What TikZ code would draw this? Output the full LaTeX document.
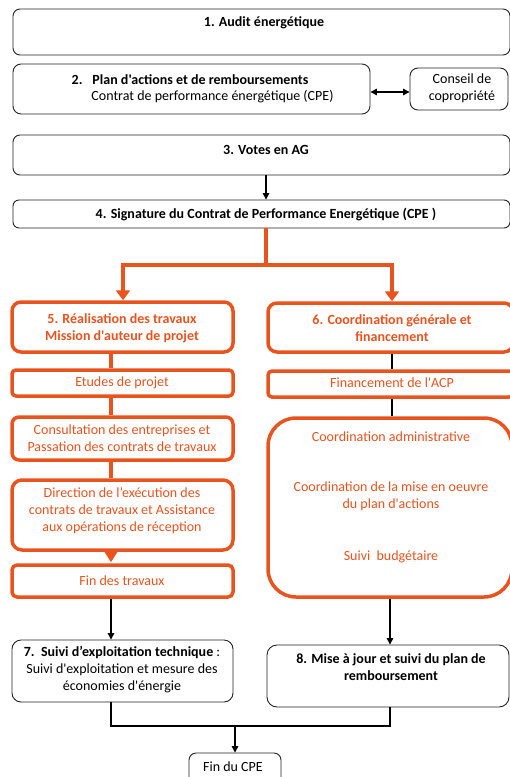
\documentclass[tikz,border=0pt]{standalone}
\usepackage{fontspec}
\setmainfont{Carlito}
\newfontfamily\carl{Carlito}
\usetikzlibrary{arrows.meta}
\definecolor{orng}{RGB}{233,83,30}
\definecolor{bord}{RGB}{35,35,35}
\tikzset{
  bbox/.style={draw=bord, line width=0.9pt, rounded corners=#1, inner sep=0pt},
  bbox/.default=8pt,
  obox/.style={draw=orng, line width=3.5pt, rounded corners=#1, inner sep=0pt},
  obox/.default=8pt,
  txt/.style={font=\carl\fontsize{14}{17}\selectfont, align=center, inner sep=0pt, text=black},
  btxt/.style={font=\carl\bfseries\fontsize{14}{17}\selectfont, align=center, inner sep=0pt, text=black},
  otxt/.style={font=\carl\fontsize{14}{17}\selectfont, align=center, inner sep=0pt, text=orng},
  obtxt/.style={font=\carl\bfseries\fontsize{14}{17}\selectfont, align=center, inner sep=0pt, text=orng},
  bline/.style={draw=black, line width=1.3pt},
  barrow/.style={bline, -{Triangle[width=6.5pt,length=6.5pt]}},
  oline/.style={draw=orng, line width=4pt},
  oarrow/.style={oline, -{Triangle[width=14pt,length=10pt]}},
}
\begin{document}
\begin{tikzpicture}[x=1pt,y=-1pt]
\useasboundingbox (0,0) rectangle (510,777);
\clip (0,0) rectangle (510,777);

% black boxes top
\node[bbox=7pt, minimum width=497pt, minimum height=46pt] (n1) at (261.5,32) {};
\node[bbox=8pt, minimum width=357pt, minimum height=50pt] (n2) at (191.5,89) {};
\node[bbox=8pt, minimum width=98pt, minimum height=42pt] (nc) at (459,89) {};
\node[bbox=7pt, minimum width=497pt, minimum height=40pt] (n3) at (261.5,155) {};
\node[bbox=6pt, minimum width=497pt, minimum height=28pt] (n4) at (261.5,214) {};

% orange boxes
\node[obox=9pt, minimum width=221pt, minimum height=50pt] (n5) at (122.5,327) {};
\node[obox=9pt, minimum width=245pt, minimum height=49pt] (n6) at (390.5,327.5) {};
\node[obox=4pt, minimum width=221pt, minimum height=26pt] (n5a) at (122.5,383) {};
\node[obox=7pt, minimum width=221pt, minimum height=43pt] (n5b) at (122.5,438.5) {};
\node[obox=10pt, minimum width=221pt, minimum height=70pt] (n5c) at (122.5,515) {};
\node[obox=5pt, minimum width=221pt, minimum height=32pt] (n5d) at (122.5,581) {};
\node[obox=4pt, minimum width=245pt, minimum height=26pt] (n6a) at (390.5,384) {};
\node[obox=28pt, minimum width=244pt, minimum height=179pt] (n6b) at (390,507.5) {};

% black boxes bottom
\node[bbox=9pt, minimum width=221pt, minimum height=62pt] (n7) at (122.5,671) {};
\node[bbox=10pt, minimum width=242pt, minimum height=62pt] (n8) at (388,676) {};
\node[bbox=7pt, minimum width=92pt, minimum height=38pt] (nf) at (235,772) {};

% texts
\node[btxt] (t1) at (264,23) {1. Audit énergétique};
\node[btxt] (t2a) at (190,80) {2.\hspace{10pt}Plan d'actions et de remboursements};
\node[txt] (t2b) at (212.5,97) {Contrat de performance énergétique (CPE)};
\node[txt] (tc) at (462,88.5) {Conseil de\\copropriété};
\node[btxt] (t3) at (266,150) {3. Votes en AG};
\node[btxt] (t4) at (266,214.5) {4. Signature du Contrat de Performance Energétique (CPE )};
\node[obtxt] (t5) at (122,328) {5. Réalisation des travaux\\Mission d'auteur de projet};
\node[obtxt] (t6) at (392,328.5) {6. Coordination générale et\\financement};
\node[otxt] (t5a) at (122,382.5) {Etudes de projet};
\node[otxt] (t5b) at (122,438) {Consultation des entreprises et\\Passation des contrats de travaux};
\node[otxt] (t5c) at (122,510.5) {Direction de l’exécution des\\contrats de travaux et Assistance\\aux opérations de réception};
\node[otxt] (t5d) at (122,581) {Fin des travaux};
\node[otxt] (t6a) at (392,382.5) {Financement de l'ACP};
\node[otxt] (t6b1) at (391,437) {Coordination administrative};
\node[otxt] (t6b2) at (391,496.5) {Coordination de la mise en oeuvre\\du plan d'actions};
\node[otxt] (t6b3) at (391,557) {Suivi\ \ budgétaire};
\node[txt] (t7) at (122,670) {\textbf{7.\ \ Suivi d’exploitation technique} :\\Suivi d'exploitation et mesure des\\économies d'énergie};
\node[btxt] (t8) at (391,667.5) {8. Mise à jour et suivi du plan de\\remboursement};
\node[txt] (tf) at (233,767) {Fin du CPE};

% connectors
\draw[bline, {Triangle[width=6.5pt,length=6.5pt]}-{Triangle[width=6.5pt,length=6.5pt]}] ([yshift=-3pt]n2.east) -- ([yshift=-3pt]nc.west);
\draw[barrow] ([xshift=4.5pt]n3.south) -- ([xshift=4.5pt]n4.north);
\coordinate (j1) at (266,265);
\draw[oline] ([xshift=4.5pt]n4.south) -- (j1);
\draw[oarrow] (j1) -| ([xshift=0.5pt]n5.north);
\draw[oarrow] (j1) -| ([xshift=1.5pt]n6.north);
\draw[oline] ([xshift=-11.5pt]n5.south) -- ([xshift=-11.5pt]n5a.north);
\draw[oline] ([xshift=-11.5pt]n5a.south) -- ([xshift=-11.5pt]n5b.north);
\draw[oline] ([xshift=-11.5pt]n5b.south) -- ([xshift=-11.5pt]n5c.north);
\draw[draw=orng, line width=3pt, -{Triangle[width=13pt,length=11pt]}] ([xshift=-11.5pt]n5c.south) -- ([xshift=-11.5pt,yshift=1pt]n5d.north);
\draw[barrow] ([xshift=-11.5pt]n5d.south) -- ([xshift=-11.5pt]n7.north);
\draw[bline] ([xshift=1.5pt]n6.south) -- ([xshift=1.5pt]n6a.north);
\draw[bline] ([xshift=1.5pt]n6a.south) -- ([xshift=2pt]n6b.north);
\draw[barrow] (n6b.south) -- ([xshift=2pt]n8.north);
\coordinate (j2) at (235,726);
\draw[bline] ([xshift=-11.5pt]n7.south) |- (j2) -| ([xshift=2pt]n8.south);
\draw[barrow] (j2) -- (nf.north);
\end{tikzpicture}
\end{document}
